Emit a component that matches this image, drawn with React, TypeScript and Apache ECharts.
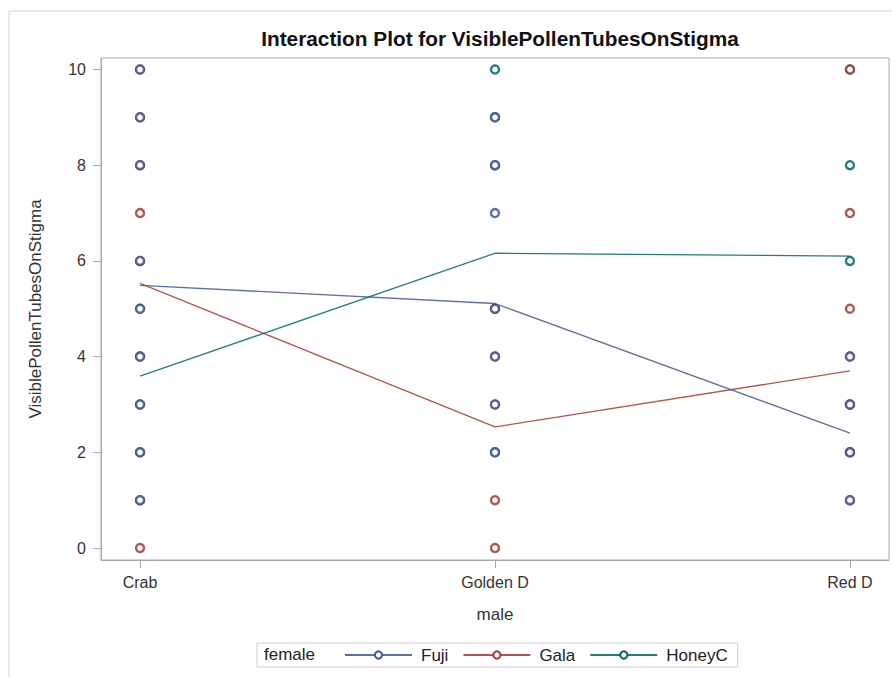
import React, { useEffect, useRef } from "react";
import * as echarts from "echarts";

const maleCategories = ["Crab", "Golden D", "Red D"];
const femaleGroups = ["Fuji", "Gala", "HoneyC"];
const yTickValues = [0, 2, 4, 6, 8, 10];

// Means per male category (lines)
const fujiMeans = [5.49, 5.11, 2.4];
const galaMeans = [5.53, 2.53, 3.7];
const honeyMeans = [3.59, 6.16, 6.1];

// Observed distinct values per male category (markers)
const fujiObs = [[10, 9, 8, 6, 5, 4, 3, 2, 1], [9, 8, 7, 5, 4, 3, 2], [4, 3, 2, 1]];
const galaObs = [[10, 9, 8, 7, 6, 0], [5, 4, 3, 1, 0], [10, 7, 5, 4, 3, 2, 1]];
const honeyObs = [[5, 4, 3, 2, 1], [10, 9, 8, 5, 2], [10, 8, 6, 3, 2]];

const colors = ["#445694", "#A23A2E", "#01665E"];
const FONT = "'Liberation Sans', Arial, sans-serif";

export default function App() {
  const ref = useRef<HTMLDivElement>(null);
  useEffect(() => {
    if (!ref.current) return;
    const chart = echarts.init(ref.current, null, { renderer: "svg" });
    const means = [fujiMeans, galaMeans, honeyMeans];
    const obs = [fujiObs, galaObs, honeyObs];
    const lineSeries = femaleGroups.map((name, k) => ({
      name,
      type: "line",
      data: means[k].map((v, i) => [i, v]),
      symbol: "emptyCircle",
      symbolSize: 8,
      showSymbol: false,
      z: 2,
      color: colors[k],
      lineStyle: { color: colors[k], width: 1.3, opacity: 0.85 },
      itemStyle: { color: colors[k], borderColor: colors[k], borderWidth: 1.2 },
    }));
    const scatterOrder = [2, 1, 0];
    const scatterSeries = scatterOrder.map((k) => ({
      name: femaleGroups[k],
      type: "scatter",
      data: obs[k].flatMap((vals, i) => vals.map((v) => [i, v])),
      symbol: "circle",
      symbolSize: 8,
      z: 3,
      itemStyle: { color: "#ffffff", borderColor: colors[k], borderWidth: 2.4, opacity: 0.85 },
    }));
    chart.setOption({
      animation: false,
      backgroundColor: "#ffffff",
      title: {
        text: "Interaction Plot for VisiblePollenTubesOnStigma",
        left: 495,
        top: 23,
        textAlign: "center",
        textStyle: { fontFamily: FONT, fontWeight: "bold", fontSize: 20.8, color: "#111" },
      },
      grid: {
        left: 101,
        right: 3,
        top: 58,
        bottom: 117,
        show: true,
        borderColor: "#a9a9a9",
        borderWidth: 1,
        containLabel: false,
      },
      xAxis: {
        type: "value",
        min: -0.11,
        max: 2.11,
        name: "male",
        nameLocation: "middle",
        nameGap: 46,
        nameTextStyle: { fontFamily: FONT, fontSize: 17, color: "#333" },
        axisLine: { show: true, onZero: false, lineStyle: { color: "#a9a9a9" } },
        axisTick: { show: true, length: 8, customValues: [0, 1, 2], lineStyle: { color: "#a9a9a9" } },
        axisLabel: {
          customValues: [0, 1, 2],
          formatter: (v: number) => maleCategories[Math.round(v)] ?? "",
          margin: 14,
          fontFamily: FONT,
          fontSize: 16,
          color: "#333",
        },
        splitLine: { show: false },
      },
      yAxis: {
        type: "value",
        min: -0.25,
        max: 10.24,
        name: "VisiblePollenTubesOnStigma",
        nameLocation: "middle",
        nameGap: 57,
        nameTextStyle: { fontFamily: FONT, fontSize: 17, color: "#333" },
        axisLine: { show: true, onZero: false, lineStyle: { color: "#a9a9a9" } },
        axisTick: { show: true, length: 8, customValues: yTickValues, lineStyle: { color: "#a9a9a9" } },
        axisLabel: {
          customValues: yTickValues,
          margin: 15,
          fontFamily: FONT,
          fontSize: 16,
          color: "#333",
        },
        splitLine: { show: false },
      },
      legend: {
        data: femaleGroups,
        left: 257,
        top: 643,
        padding: [3, 10, 3, 87],
        itemWidth: 67,
        itemHeight: 9,
        itemGap: 14,
        borderColor: "#d0d0d0",
        borderWidth: 1,
        textStyle: { fontFamily: FONT, fontSize: 17, color: "#222", lineHeight: 18, padding: [0, 0, 0, 4] },
      },
      graphic: [
        {
          type: "rect",
          silent: true,
          shape: { x: 9, y: 11, width: 900, height: 700 },
          style: { fill: "none", stroke: "#d4d4d4", lineWidth: 1 },
          z: -10,
        },
        {
          type: "text",
          left: 264,
          top: 646,
          style: { text: "female", font: `17px ${FONT}`, fill: "#222" },
        },
      ],
      series: [...lineSeries, ...scatterSeries],
    });
    return () => chart.dispose();
  }, []);
  return <div ref={ref} style={{ position: "fixed", left: 0, top: 0, width: 892, height: 677 }} />;
}
